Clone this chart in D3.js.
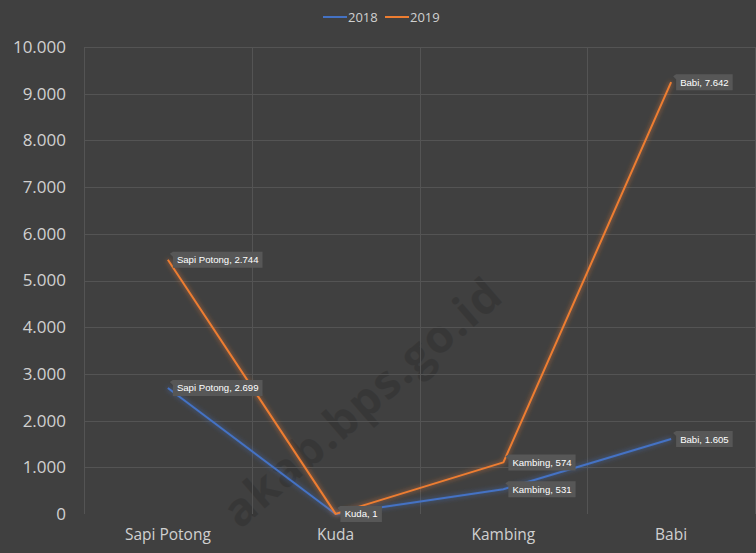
<!DOCTYPE html>
<html><head><meta charset="utf-8">
<script src="https://cdn.jsdelivr.net/npm/d3@7"></script>
<style>html,body{margin:0;padding:0;background:#404040;}svg{display:block;}</style>
</head><body>
<script>
const categories = ["Sapi Potong", "Kuda", "Kambing", "Babi"];
const seriesNames = ["2018", "2019"];
const values2018 = [2699, 1, 531, 1605];
const values2019 = [2744, 1, 574, 7642];
const yTicks = [0, 1000, 2000, 3000, 4000, 5000, 6000, 7000, 8000, 9000, 10000];
const colors = ["#4472C4", "#ED7D31"];

const W = 756, H = 553;
const plot = {left: 84, right: 755, top: 47, bottom: 514};
const svg = d3.select("body").append("svg").attr("width", W).attr("height", H);
svg.append("rect").attr("width", W).attr("height", H).attr("fill", "#404040");

const defs = svg.append("defs");
colors.forEach((c, i) => {
  const f = defs.append("filter").attr("id", "glow" + i).attr("x", "-20%").attr("y", "-20%").attr("width", "140%").attr("height", "140%");
  f.append("feGaussianBlur").attr("in", "SourceGraphic").attr("stdDeviation", 2.5).attr("result", "b");
  f.append("feComponentTransfer").attr("in", "b").attr("result", "b2")
    .append("feFuncA").attr("type", "linear").attr("slope", 0.8);
  const m = f.append("feMerge");
  m.append("feMergeNode").attr("in", "b2");
  m.append("feMergeNode").attr("in", "SourceGraphic");
});

const x = d3.scaleBand().domain(categories).range([plot.left, plot.right]);
const y = d3.scaleLinear().domain([0, 10000]).range([plot.bottom, plot.top]);
const fmt = d3.formatLocale({decimal: ",", thousands: ".", grouping: [3], currency: ["", ""]}).format(",d");

// watermark
svg.append("text").attr("transform", "translate(240,530) rotate(-41)")
  .attr("font-family", "Open Sans, sans-serif").attr("font-weight", "bold").attr("font-size", 46)
  .attr("letter-spacing", 1.5)
  .attr("fill", "#2f2f2f").attr("fill-opacity", 0.5).text("akab.bps.go.id");

// gridlines
const g = svg.append("g");
g.selectAll(".hg").data(yTicks.filter(d => d > 0)).join("line")
  .attr("x1", plot.left).attr("x2", plot.right).attr("y1", d => Math.round(y(d)) + 0.5).attr("y2", d => Math.round(y(d)) + 0.5)
  .attr("stroke", "#545454").attr("stroke-width", 1);
const vLines = categories.map(c => x(c)).concat([plot.right]);
g.selectAll(".vg").data(vLines).join("line")
  .attr("x1", d => Math.round(d) + 0.5).attr("x2", d => Math.round(d) + 0.5).attr("y1", plot.top).attr("y2", plot.bottom)
  .attr("stroke", "#545454").attr("stroke-width", 1);

// y axis
const yAxis = d3.axisLeft(y).tickValues(yTicks).tickFormat(fmt).tickSize(0).tickPadding(0);
const ya = svg.append("g").attr("transform", "translate(66,0)").call(yAxis);
ya.select(".domain").remove();
ya.selectAll("text").attr("font-family", "Open Sans, sans-serif").attr("font-size", 17).attr("fill", "#d0d0d0");

// x axis
const xAxis = d3.axisBottom(x).tickSize(0).tickPadding(0);
const xa = svg.append("g").attr("transform", "translate(0,529)").call(xAxis);
xa.select(".domain").remove();
xa.selectAll("text").attr("font-family", "Open Sans, sans-serif").attr("font-size", 15.5).attr("fill", "#d0d0d0");

// stacked data
const cum2019 = values2019.map((v, i) => v + values2018[i]);
const series = [
  {name: seriesNames[0], raw: values2018, pos: values2018},
  {name: seriesNames[1], raw: values2019, pos: cum2019}
];
const line = d3.line().x((d, i) => x(categories[i]) + x.bandwidth() / 2).y(d => y(d));
series.forEach((s, si) => {
  svg.append("path").datum(s.pos).attr("d", line).attr("fill", "none")
    .attr("stroke", colors[si]).attr("stroke-width", 2).attr("stroke-linejoin", "round")
    .attr("filter", `url(#glow${si})`);
});

// data labels
series.forEach((s, si) => {
  s.pos.forEach((v, i) => {
    const px = x(categories[i]) + x.bandwidth() / 2, py = y(v);
    const txt = categories[i] + ", " + fmt(s.raw[i]);
    const lg = svg.append("g").attr("transform", `translate(${px + 5},${py})`);
    const t = lg.append("text").attr("x", 4).attr("y", 3.5)
      .attr("font-family", "Liberation Sans, Arial, sans-serif").attr("font-size", 9.6).attr("fill", "#ffffff").text(txt);
    const w = t.node().getComputedTextLength() + 8;
    lg.insert("path", "text").attr("d", `M0,-3 L-3,-6 L0,-8 L${w},-8 L${w},8 L0,8 Z`).attr("fill", "#575757");
  });
});

// legend
const legend = svg.append("g").attr("transform", "translate(323,17)");
const items = [{n: seriesNames[0], c: colors[0], x: 0}, {n: seriesNames[1], c: colors[1], x: 62}];
items.forEach(it => {
  legend.append("line").attr("x1", it.x).attr("x2", it.x + 24).attr("y1", 0).attr("y2", 0).attr("stroke", it.c).attr("stroke-width", 2);
  legend.append("text").attr("x", it.x + 25).attr("y", 5).attr("font-family", "Open Sans, sans-serif").attr("font-size", 13)
    .attr("fill", "#d0d0d0").text(it.n);
});
</script>
</body></html>
